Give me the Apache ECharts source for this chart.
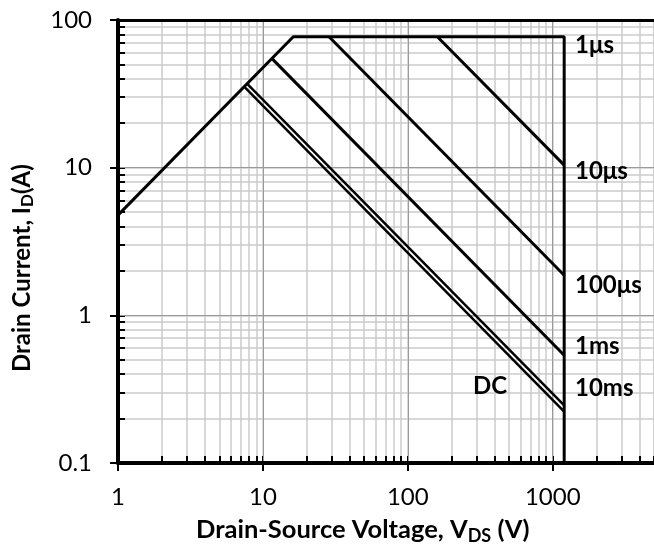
<!DOCTYPE html>
<html>
<head>
<meta charset="utf-8">
<script src="https://cdn.jsdelivr.net/npm/echarts@6/dist/echarts.min.js"></script>
<style>
  html, body { margin: 0; padding: 0; background: #fff; }
  #chart { width: 654px; height: 550px; }
</style>
</head>
<body>
<div id="chart"></div>
<script>
  // values: drain-source voltage (V) / drain current (A)
  var limitV = [1, 16.2, 1200, 1200];      // 1us: Ron line, current limit, voltage limit
  var limitI = [4.77, 77, 77, 0.1];
  var us10V = [160, 1200];
  var us10I = [77, 10.4];
  var us100V = [28.6, 1200];
  var us100I = [77, 1.87];
  var ms1V = [11.6, 1200];
  var ms1I = [54.5, 0.537];
  var ms10V = [7.8, 1200];
  var ms10I = [37, 0.246];
  var dcV = [7.45, 1200];
  var dcI = [35.3, 0.223];

  var xMajor = [1, 10, 100, 1000];
  var yMajor = [0.1, 1, 10, 100];
  var xMin = 1, xMax = 5000;
  var yMin = 0.1, yMax = 100;

  // 1..9 x 10^k between min and max, for the log grid
  function logSteps(lo, hi) {
    var out = [];
    for (var d = lo; d < hi; d *= 10) {
      for (var m = 1; m <= 9; m++) {
        var v = +(m * d).toPrecision(6);
        if (v >= lo && v <= hi) out.push(v);
      }
    }
    out.push(hi);
    return out;
  }
  var xMinor = logSteps(xMin, xMax);
  var yMinor = logSteps(yMin, yMax);

  function pairs(xs, ys) {
    return xs.map(function (x, i) { return [x, ys[i]]; });
  }

  var FONT = 'Lato';
  var box = { left: 118, top: 20, width: 539, height: 443 };

  var chart = echarts.init(document.getElementById('chart'));

  function xAx(grid, extra) {
    return Object.assign({
      type: 'log', logBase: 10, gridIndex: grid, min: xMin, max: xMax,
      axisLine: { show: false }, axisTick: { show: false },
      axisLabel: { show: false }, splitLine: { show: false }
    }, extra);
  }
  function yAx(grid, extra) {
    return Object.assign({
      type: 'log', logBase: 10, gridIndex: grid, min: yMin, max: yMax,
      axisLine: { show: false }, axisTick: { show: false },
      axisLabel: { show: false }, splitLine: { show: false }
    }, extra);
  }

  function curve(name, xs, ys, w) {
    return {
      name: name, type: 'line', xAxisIndex: 1, yAxisIndex: 1,
      data: pairs(xs, ys), symbol: 'none', silent: true, z: 3,
      lineStyle: { color: '#000', width: w || 3 }
    };
  }
  var plain = function (v) { return String(+v.toPrecision(6)); };

  var option = {
    animation: false,
    grid: [
      Object.assign({}, box),
      Object.assign({}, box),
      Object.assign({}, box)
    ],
    xAxis: [
      // minor grid + inside ticks
      xAx(0, {
        z: 0,
        axisTick: { show: true, inside: true, length: 7, customValues: xMinor, lineStyle: { color: '#000', width: 2 } },
        splitLine: { show: true, lineStyle: { color: '#cbcbcb', width: 1.5 } }
      }),
      // decades: darker grid, outside ticks, labels
      xAx(1, {
        z: 1,
        axisTick: { show: true, inside: false, length: 8, customValues: xMajor, lineStyle: { color: '#000', width: 2 } },
        axisLabel: { show: true, customValues: xMajor, formatter: plain, margin: 22, color: '#000', fontFamily: FONT, fontSize: 24 },
        splitLine: { show: true, lineStyle: { color: '#9a9a9a', width: 1 } }
      }),
      xAx(2, { z: 5, position: 'bottom', axisLine: { show: true, lineStyle: { color: '#000', width: 4 } } }),
      xAx(2, { z: 5, position: 'top', axisLine: { show: true, lineStyle: { color: '#000', width: 3 } } })
    ],
    yAxis: [
      yAx(0, {
        z: 0,
        axisTick: { show: true, inside: true, length: 7, customValues: yMinor, lineStyle: { color: '#000', width: 2 } },
        splitLine: { show: true, lineStyle: { color: '#cbcbcb', width: 1.5 } }
      }),
      yAx(1, {
        z: 1,
        axisTick: { show: true, inside: false, length: 8, customValues: yMajor, lineStyle: { color: '#000', width: 2 } },
        axisLabel: { show: true, customValues: yMajor, formatter: plain, margin: 26, color: '#000', fontFamily: FONT, fontSize: 24 },
        splitLine: { show: true, lineStyle: { color: '#9a9a9a', width: 1 } }
      }),
      yAx(2, { z: 5, axisLine: { show: true, lineStyle: { color: '#000', width: 4 } } })
    ],
    series: [
      curve('1μs', limitV, limitI),
      curve('10μs', us10V, us10I),
      curve('100μs', us100V, us100I),
      curve('1ms', ms1V, ms1I),
      curve('10ms', ms10V, ms10I, 2.5),
      curve('DC', dcV, dcI, 2.5)
    ],
    graphic: [
      { type: 'text', left: 575, top: 33, z: 10, style: { text: '1μs', font: 'bold 24px Lato', fill: '#000' } },
      { type: 'text', left: 575, top: 159, z: 10, style: { text: '10μs', font: 'bold 24px Lato', fill: '#000' } },
      { type: 'text', left: 575, top: 273, z: 10, style: { text: '100μs', font: 'bold 24px Lato', fill: '#000' } },
      { type: 'text', left: 575, top: 334, z: 10, style: { text: '1ms', font: 'bold 24px Lato', fill: '#000' } },
      { type: 'text', left: 575, top: 376, z: 10, style: { text: '10ms', font: 'bold 24px Lato', fill: '#000' } },
      { type: 'text', left: 473, top: 374, z: 10, style: { text: 'DC', font: 'bold 24px Lato', fill: '#000' } },
      {
        type: 'text', left: 196, top: 516, z: 10,
        style: {
          text: '{a|Drain-Source Voltage, V}{s|DS}{a| (V)}',
          rich: {
            a: { fontFamily: FONT, fontWeight: 'bold', fontSize: 25.5, lineHeight: 30, fill: '#000' },
            s: { fontFamily: FONT, fontWeight: 'bold', fontSize: 18, lineHeight: 19, verticalAlign: 'bottom', padding: [11, 0, 0, 0], fill: '#000' }
          }
        }
      },
      {
        type: 'text', x: 8, y: 372, rotation: Math.PI / 2, z: 10,
        style: {
          text: '{a|Drain Current, I}{s|D}{a|(A)}',
          rich: {
            a: { fontFamily: FONT, fontWeight: 'bold', fontSize: 24, lineHeight: 28, fill: '#000' },
            s: { fontFamily: FONT, fontWeight: 'bold', fontSize: 17, lineHeight: 18, verticalAlign: 'bottom', padding: [10, 0, 0, 0], fill: '#000' }
          }
        }
      }
    ]
  };

  chart.setOption(option);
</script>
</body>
</html>
